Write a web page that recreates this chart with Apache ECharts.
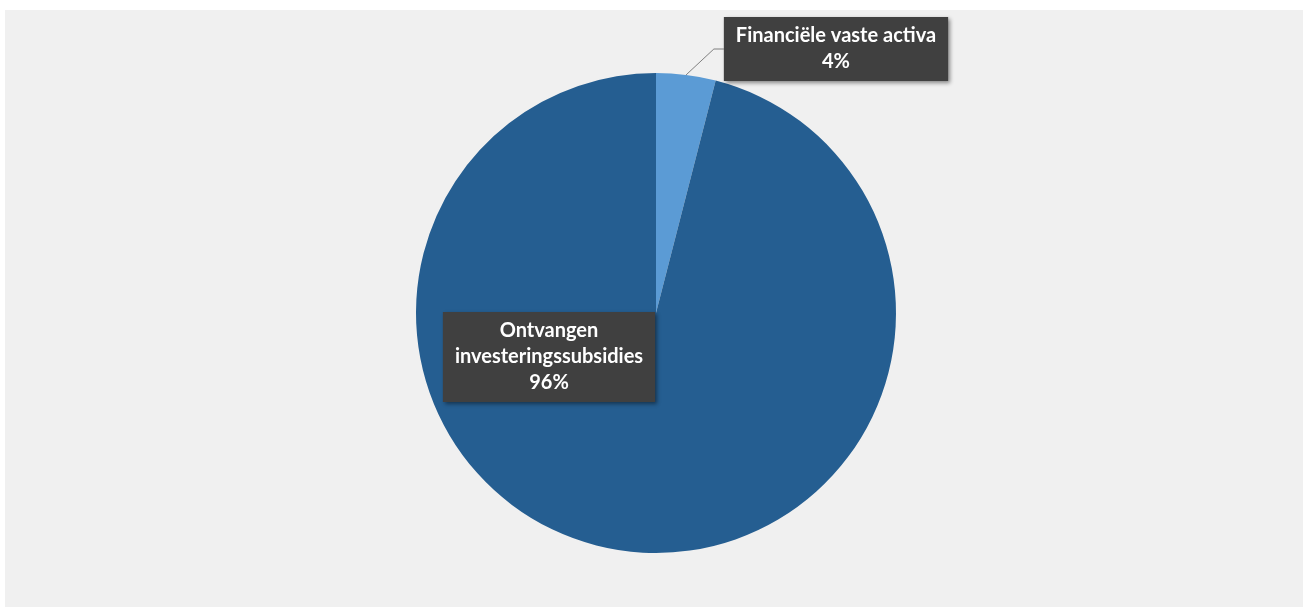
<!DOCTYPE html>
<html><head><meta charset="utf-8">
<script src="https://cdn.jsdelivr.net/npm/echarts@6/dist/echarts.min.js"></script>
<style>
html,body{margin:0;padding:0;background:#ffffff;}
#panel{position:absolute;left:5px;top:10px;width:1298px;height:597px;background:#f0f0f0;}
#chart{position:absolute;left:0;top:0;width:1309px;height:610px;}
</style></head>
<body>
<div id="panel"></div>
<div id="chart"></div>
<script>
const categories = ['Financiële vaste activa', 'Ontvangen investeringssubsidies'];
const labelNames = ['Financiële vaste activa', 'Ontvangen\ninvesteringssubsidies'];
const values = [4, 96];
const colors = ['#5b9bd5', '#255e91'];
const labelCenters = [[836, 49], [549, 357]];

const chart = echarts.init(document.getElementById('chart'), null, {renderer: 'canvas'});
chart.setOption({
  backgroundColor: 'transparent',
  animation: false,
  series: [{
    type: 'pie',
    center: [656, 313],
    radius: [0, 240],
    startAngle: 90,
    clockwise: true,
    data: categories.map((c, i) => ({
      name: c, value: values[i],
      itemStyle: {color: colors[i]},
      label: {
        formatter: labelNames[i] + '\n{d}%'
      },
      labelLine: {show: i === 0}
    })),
    label: {
      show: true,
      position: 'outside',
      color: '#ffffff',
      fontFamily: 'Lato, "Open Sans", sans-serif',
      fontWeight: 'bold',
      fontSize: 20,
      lineHeight: 26,
      align: 'center',
      backgroundColor: '#404040',
      padding: [6, 12, 6, 12],
      shadowColor: 'rgba(0,0,0,0.45)',
      shadowBlur: 4,
      shadowOffsetX: 2,
      shadowOffsetY: 2
    },
    labelLine: {
      lineStyle: {color: '#7f7f7f', width: 1},
      length: 20, length2: 10
    },
    labelLayout: function (p) {
      const c = labelCenters[p.dataIndex];
      return {x: c[0], y: c[1], align: 'center', verticalAlign: 'middle'};
    },
    emphasis: {disabled: true}
  }]
});
</script>
</body></html>
